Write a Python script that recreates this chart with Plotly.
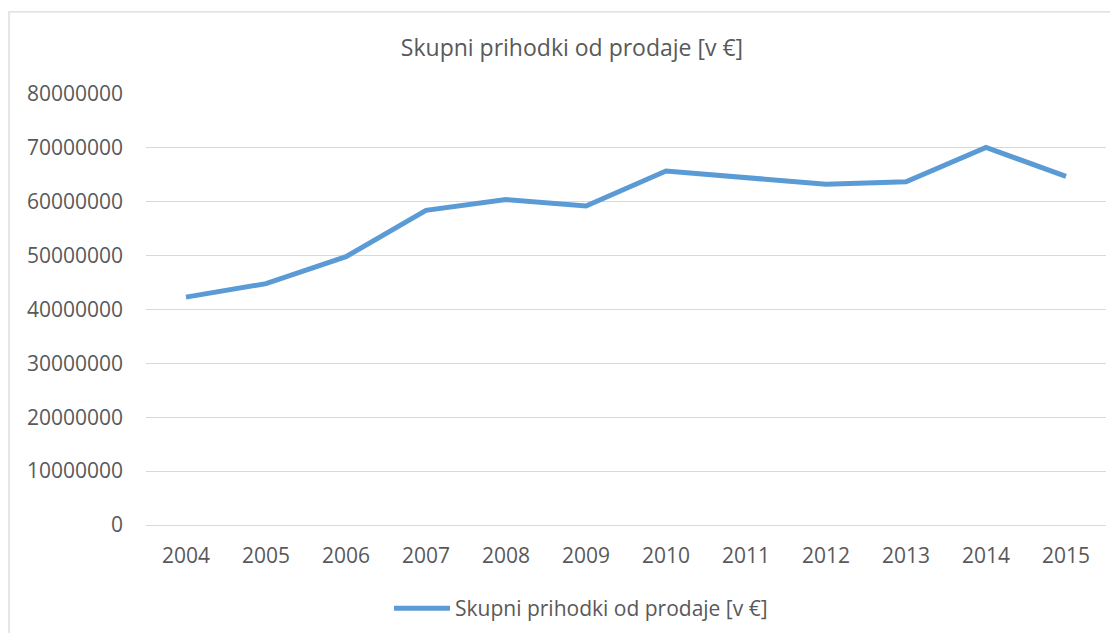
import plotly.graph_objects as go

years = ["2004", "2005", "2006", "2007", "2008", "2009", "2010", "2011", "2012", "2013", "2014", "2015"]
revenue = [42300000, 44800000, 49800000, 58400000, 60400000, 59200000,
           65700000, 64400000, 63250000, 63700000, 70100000, 64700000]
series_name = "Skupni prihodki od prodaje [v €]"
title_text = "Skupni prihodki od prodaje [v €]"
y_ticks = [0, 10000000, 20000000, 30000000, 40000000, 50000000, 60000000, 70000000, 80000000]

# page body has an 8px margin; work in reference pixel coordinates and shift
OFF = 8
W, H = 1102, 625
L, R, T, B = 146 - OFF, W - (1106 - OFF), 94 - OFF, H - (527 - OFF)
pw, ph = W - L - R, H - T - B

def px(x):
    return (x - OFF - L) / pw

def py(y):
    return (H - B - (y - OFF)) / ph

text_color = "#595959"
grid_color = "#D9D9D9"
font_family = "Open Sans, Calibri, sans-serif"

fig = go.Figure()
fig.add_trace(go.Scatter(
    x=years, y=revenue, mode="lines", name=series_name,
    line=dict(color="#5B9BD5", width=5),
))

fig.update_layout(
    width=W, height=H,
    margin=dict(l=L, r=R, t=T, b=B),
    paper_bgcolor="white", plot_bgcolor="white",
    font=dict(family=font_family, color=text_color, size=20),
    title=dict(text=title_text, x=px(572), xref="paper", xanchor="center",
               y=1 - (48 - OFF) / H, yref="container", yanchor="middle",
               font=dict(size=23, color=text_color, family=font_family)),
    showlegend=True,
    legend=dict(orientation="h", x=px(581), xanchor="center", y=py(611), yanchor="middle",
                itemwidth=56,
                font=dict(size=21, color=text_color), bgcolor="rgba(0,0,0,0)"),
    xaxis=dict(type="category", range=[-0.5, len(years) - 0.5],
               showgrid=False, showline=False, zeroline=False,
               ticks="", ticklabelstandoff=16,
               tickfont=dict(size=21, color=text_color)),
    yaxis=dict(range=[0, 80000000], tickvals=y_ticks, tickformat="d",
               showgrid=True, gridcolor=grid_color, gridwidth=1.3,
               zeroline=True, zerolinecolor=grid_color, zerolinewidth=1.3,
               showline=False, ticks="", ticklabelstandoff=22,
               tickfont=dict(size=21, color=text_color)),
    shapes=[dict(type="rect", xref="paper", yref="paper",
                 x0=px(9), x1=px(1140), y0=py(11.5), y1=py(660),
                 line=dict(color=grid_color, width=1.3), fillcolor="rgba(0,0,0,0)", layer="below")],
)

fig.write_html("out.html")
